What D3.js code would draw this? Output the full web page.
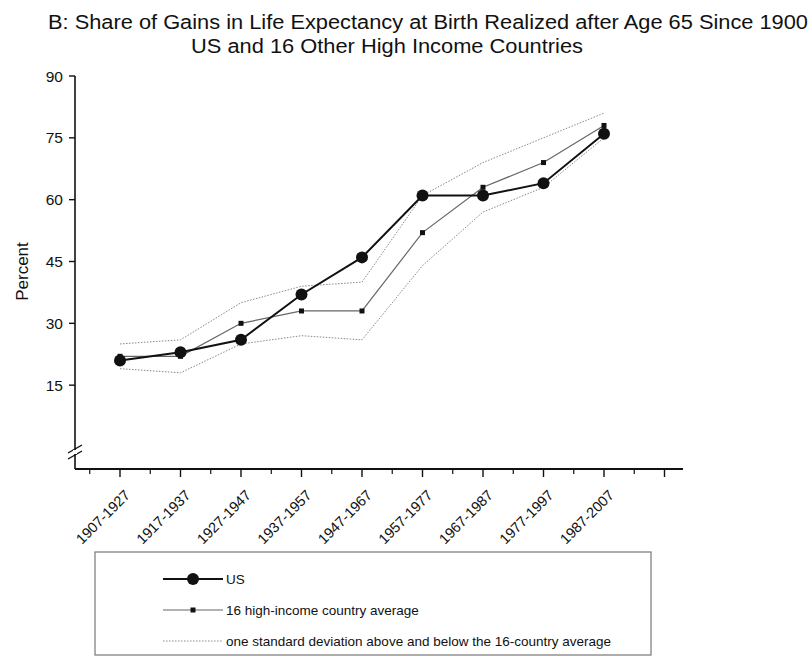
<!DOCTYPE html>
<html><head><meta charset="utf-8">
<script src="https://cdn.jsdelivr.net/npm/d3@7"></script>
<style>body{margin:0;background:#fff}svg{display:block}text{font-family:"Liberation Sans",Arial,sans-serif}</style>
</head><body>
<svg id="c" width="812" height="656"></svg>
<script>
const categories = ["1907-1927","1917-1937","1927-1947","1937-1957","1947-1967","1957-1977","1967-1987","1977-1997","1987-2007"];
const usValues   = [21, 23, 26, 37, 46, 61, 61, 64, 76];
const avgValues  = [22, 22, 30, 33, 33, 52, 63, 69, 78];
const sdUpper    = [25, 26, 35, 39, 40, 61, 69, 75, 81];
const sdLower    = [19, 18, 25, 27, 26, 44, 57, 63, 75];
const yTicks     = [15, 30, 45, 60, 75, 90];
const titleLines = ["B: Share of Gains in Life Expectancy at Birth Realized after Age 65 Since 1900", "US and 16 Other High Income Countries"];
const legendLabels = ["US", "16 high-income country average", "one standard deviation above and below the 16-country average"];

const svg = d3.select("#c");
const x = d3.scaleLinear().domain([1, 10]).range([120, 664.5]);
const y = d3.scaleLinear().domain([0, 90]).range([447, 76]);
const axisY = 469, axisX = 75;

// Title
svg.append("text").attr("x", 428).attr("y", 29).attr("text-anchor", "middle")
  .attr("font-size", 19.5).attr("textLength", 760).attr("lengthAdjust", "spacingAndGlyphs").attr("fill", "#111").text(titleLines[0]);
svg.append("text").attr("x", 387).attr("y", 53).attr("text-anchor", "middle")
  .attr("font-size", 19.5).attr("textLength", 392).attr("lengthAdjust", "spacingAndGlyphs").attr("fill", "#111").text(titleLines[1]);

// Y axis
const g = svg.append("g");
g.append("line").attr("x1", axisX).attr("x2", axisX).attr("y1", y(90)).attr("y2", axisY).attr("stroke", "#111").attr("stroke-width", 1.6);
yTicks.forEach(t => {
  g.append("line").attr("x1", axisX - 6).attr("x2", axisX).attr("y1", y(t)).attr("y2", y(t)).attr("stroke", "#111").attr("stroke-width", 1.4);
  g.append("text").attr("x", 63).attr("y", y(t) + 5.5).attr("text-anchor", "end").attr("font-size", 15.5).attr("fill", "#111").text(t);
});
// axis break
const by = 452;
[-3, 3].forEach(o => {
  g.append("line").attr("x1", axisX - 7).attr("x2", axisX + 7).attr("y1", by + o + 4).attr("y2", by + o - 4).attr("stroke", "#111").attr("stroke-width", 1.4);
});
g.append("rect").attr("x", axisX - 2).attr("y", by - 2).attr("width", 4).attr("height", 4).attr("fill", "#fff");
svg.append("text").attr("transform", `translate(28,${y(45)+10}) rotate(-90)`).attr("text-anchor", "middle").attr("font-size", 17).attr("fill", "#111").text("Percent");

// X axis
g.append("line").attr("x1", axisX).attr("x2", 683).attr("y1", axisY).attr("y2", axisY).attr("stroke", "#111").attr("stroke-width", 1.8);
d3.range(1, 11).forEach(i => {
  g.append("line").attr("x1", x(i)).attr("x2", x(i)).attr("y1", axisY).attr("y2", axisY + 8).attr("stroke", "#111").attr("stroke-width", 1.4);
});
d3.range(0.5, 10, 1).forEach(i => {
  g.append("line").attr("x1", x(i)).attr("x2", x(i)).attr("y1", axisY).attr("y2", axisY + 5).attr("stroke", "#111").attr("stroke-width", 1.2);
});
categories.forEach((c, i) => {
  svg.append("text").attr("transform", `translate(${x(i + 1) + 11},${axisY + 27}) rotate(-45)`)
    .attr("text-anchor", "end").attr("font-size", 14.5).attr("fill", "#111").text(c);
});

// Lines
const line = d3.line().x((d, i) => x(i + 1)).y(d => y(d));
svg.append("path").datum(sdUpper).attr("d", line).attr("fill", "none").attr("stroke", "#888").attr("stroke-width", 1).attr("stroke-dasharray", "1.5,1.5");
svg.append("path").datum(sdLower).attr("d", line).attr("fill", "none").attr("stroke", "#888").attr("stroke-width", 1).attr("stroke-dasharray", "1.5,1.5");
svg.append("path").datum(avgValues).attr("d", line).attr("fill", "none").attr("stroke", "#666").attr("stroke-width", 1.2);
svg.selectAll(".sq").data(avgValues).join("rect").attr("x", (d, i) => x(i + 1) - 2.5).attr("y", d => y(d) - 2.5)
  .attr("width", 5).attr("height", 5).attr("fill", "#111");
svg.append("path").datum(usValues).attr("d", line).attr("fill", "none").attr("stroke", "#111").attr("stroke-width", 2);
svg.selectAll(".dot").data(usValues).join("circle").attr("cx", (d, i) => x(i + 1)).attr("cy", d => y(d)).attr("r", 6).attr("fill", "#111");

// Legend
svg.append("rect").attr("x", 95).attr("y", 552).attr("width", 556).attr("height", 103).attr("fill", "none").attr("stroke", "#777").attr("stroke-width", 1.2);
const ly = [579, 610, 641];
svg.append("line").attr("x1", 163).attr("x2", 223).attr("y1", ly[0]).attr("y2", ly[0]).attr("stroke", "#111").attr("stroke-width", 2);
svg.append("circle").attr("cx", 193).attr("cy", ly[0]).attr("r", 6).attr("fill", "#111");
svg.append("line").attr("x1", 163).attr("x2", 223).attr("y1", ly[1]).attr("y2", ly[1]).attr("stroke", "#666").attr("stroke-width", 1.2);
svg.append("rect").attr("x", 190.5).attr("y", ly[1] - 2.5).attr("width", 5).attr("height", 5).attr("fill", "#111");
svg.append("line").attr("x1", 163).attr("x2", 223).attr("y1", ly[2]).attr("y2", ly[2]).attr("stroke", "#888").attr("stroke-width", 1).attr("stroke-dasharray", "1.5,1.5");
legendLabels.forEach((t, i) => {
  svg.append("text").attr("x", 226).attr("y", ly[i] + 5).attr("font-size", 13.5).attr("fill", "#111").text(t);
});
</script>
</body></html>
